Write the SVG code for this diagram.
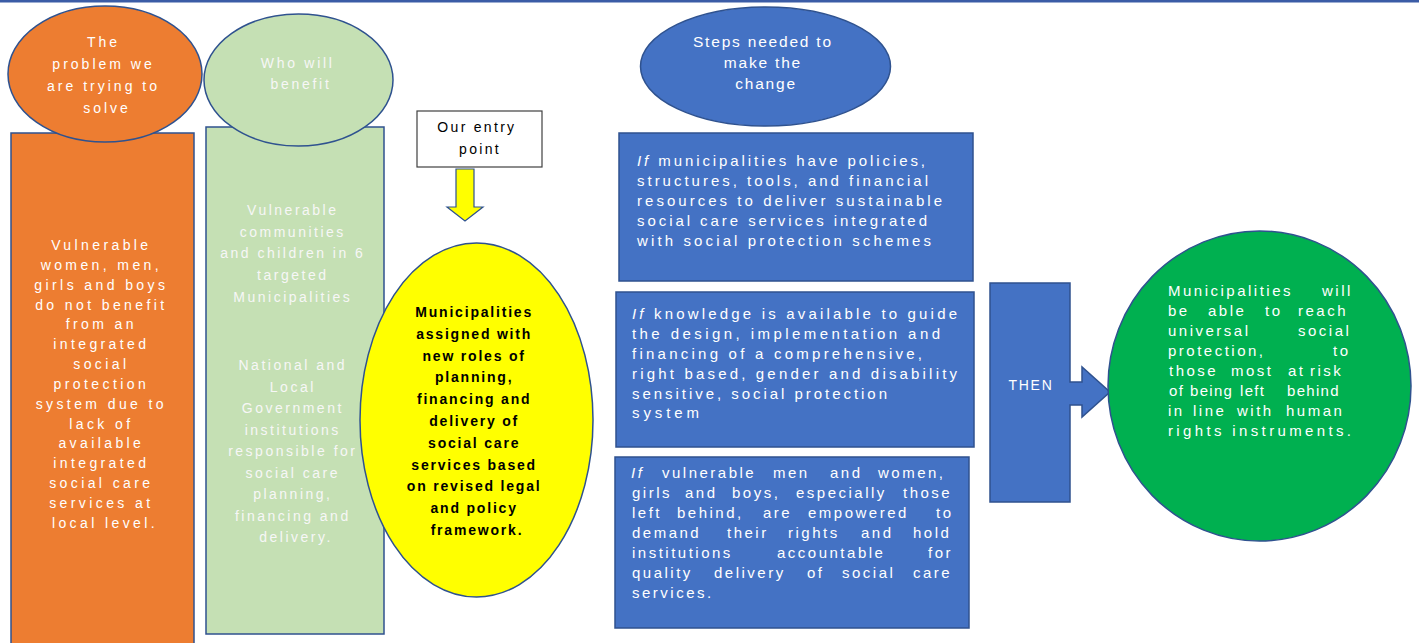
<svg xmlns="http://www.w3.org/2000/svg" width="1419" height="643" viewBox="0 0 1419 643">
<style>
.sh{stroke:#2F528F;stroke-width:1.5}
.t{font-family:"Liberation Sans",Arial,sans-serif;font-size:14px}
.c{text-anchor:middle}
.w{fill:#FFFFFF}
.k{fill:#000000}
.it{font-style:italic}
.b15{font-size:15px}
</style>
<rect x="0" y="0" width="1419" height="2.5" fill="#3B5CA6"/>

<g id="problem-box">
<rect class="sh" x="11" y="133" width="183" height="520" fill="#ED7D31"/>
<text class="t c w" x="105" style="letter-spacing:3.4px">
<tspan x="105" y="250">Vulnerable</tspan>
<tspan x="105" y="270">women, men,</tspan>
<tspan x="105" y="290">girls and boys</tspan>
<tspan x="105" y="310">do not benefit</tspan>
<tspan x="105" y="329">from an</tspan>
<tspan x="105" y="349">integrated</tspan>
<tspan x="105" y="369">social</tspan>
<tspan x="105" y="389">protection</tspan>
<tspan x="105" y="409">system due to</tspan>
<tspan x="105" y="429">lack of</tspan>
<tspan x="105" y="448">available</tspan>
<tspan x="105" y="468">integrated</tspan>
<tspan x="105" y="488">social care</tspan>
<tspan x="105" y="508">services at</tspan>
<tspan x="105" y="528">local level.</tspan>
</text>
</g>

<g id="problem-title">
<ellipse class="sh" cx="105" cy="74" rx="97" ry="68" fill="#ED7D31"/>
<text class="t c w" style="letter-spacing:3px">
<tspan x="107" y="47">The</tspan>
<tspan x="107" y="69">problem we</tspan>
<tspan x="107" y="91">are trying to</tspan>
<tspan x="107" y="113">solve</tspan>
</text>
</g>

<g id="beneficiaries-box">
<rect class="sh" x="206" y="127" width="178" height="507" fill="#C5E0B4"/>
<text class="t c" fill="#F7F7F7" style="letter-spacing:2.5px">
<tspan x="296" y="215">Vulnerable</tspan>
<tspan x="296" y="237">communities</tspan>
<tspan x="296" y="258">and children in 6</tspan>
<tspan x="296" y="280">targeted</tspan>
<tspan x="296" y="302">Municipalities</tspan>
<tspan x="296" y="370">National and</tspan>
<tspan x="296" y="392">Local</tspan>
<tspan x="296" y="413">Government</tspan>
<tspan x="296" y="435">institutions</tspan>
<tspan x="296" y="456">responsible for</tspan>
<tspan x="296" y="478">social care</tspan>
<tspan x="296" y="499">planning,</tspan>
<tspan x="296" y="521">financing and</tspan>
<tspan x="296" y="542">delivery.</tspan>
</text>
</g>

<g id="beneficiaries-title">
<ellipse class="sh" cx="298.5" cy="80" rx="94.5" ry="66" fill="#C5E0B4"/>
<text class="t c" fill="#F7F7F7" style="letter-spacing:2.7px">
<tspan x="301" y="68">Who will</tspan>
<tspan x="301" y="89">benefit</tspan>
</text>
</g>

<g id="entry-point">
<rect x="417" y="111" width="125" height="56" fill="#FFFFFF" stroke="#404040" stroke-width="1.2"/>
<text class="t c k" style="letter-spacing:2.3px">
<tspan x="480" y="132">Our entry</tspan>
<tspan x="480" y="154">point</tspan>
</text>
</g>

<g id="connectors">
<path d="M456,169 H474 V207 H483 L465,221 L447,207 H456 Z" fill="#FFFF00" stroke="#2F528F" stroke-width="1.2"/>
</g>

<g id="municipalities-roles">
<ellipse class="sh" cx="476.5" cy="420" rx="116.5" ry="177" fill="#FFFF00"/>
<text class="t c k" font-weight="bold" style="letter-spacing:1.8px">
<tspan x="477" y="317">Municipalities</tspan>
<tspan x="477" y="339">assigned with</tspan>
<tspan x="477" y="361">new roles of</tspan>
<tspan x="477" y="382">planning,</tspan>
<tspan x="477" y="404">financing and</tspan>
<tspan x="477" y="426">delivery of</tspan>
<tspan x="477" y="448">social care</tspan>
<tspan x="477" y="470">services based</tspan>
<tspan x="477" y="491">on revised legal</tspan>
<tspan x="477" y="513">and policy</tspan>
<tspan x="477" y="535">framework.</tspan>
</text>
</g>

<g id="steps-title">
<ellipse class="sh" cx="765.5" cy="66.5" rx="125" ry="59.5" fill="#4472C4"/>
<text class="t c w" style="font-size:15.5px;letter-spacing:1.8px">
<tspan x="766" y="47">Steps needed to</tspan>
<tspan x="766" y="68">make the</tspan>
<tspan x="766" y="89">change</tspan>
</text>
</g>

<g id="step-1">
<rect class="sh" x="619" y="133" width="354" height="148" fill="#4472C4"/>
<g class="t b15 w">
<text x="637" y="166" textLength="288" lengthAdjust="spacing"><tspan class="it">If</tspan> municipalities have policies,</text>
<text x="637" y="186" textLength="291" lengthAdjust="spacing">structures, tools, and financial</text>
<text x="637" y="206" textLength="305" lengthAdjust="spacing">resources to deliver sustainable</text>
<text x="637" y="226" textLength="290" lengthAdjust="spacing">social care services integrated</text>
<text x="637" y="246" textLength="294" lengthAdjust="spacing">with social protection schemes</text>
</g>
</g>

<g id="step-2">
<rect class="sh" x="616" y="292" width="358" height="155" fill="#4472C4"/>
<g class="t b15 w">
<text x="632" y="319" textLength="325" lengthAdjust="spacing"><tspan class="it">If</tspan> knowledge is available to guide</text>
<text x="632" y="339" textLength="308" lengthAdjust="spacing">the design, implementation and</text>
<text x="632" y="359" textLength="290" lengthAdjust="spacing">financing of a comprehensive,</text>
<text x="632" y="379" textLength="325" lengthAdjust="spacing">right based, gender and disability</text>
<text x="632" y="399" textLength="255" lengthAdjust="spacing">sensitive, social protection</text>
<text x="632" y="418" textLength="67" lengthAdjust="spacing">system</text>
</g>
</g>

<g id="step-3">
<rect class="sh" x="615" y="457" width="354" height="171" fill="#4472C4"/>
<g class="t b15 w" style="letter-spacing:2.5px">
<text y="478"><tspan class="it" x="631">If</tspan><tspan x="662">vulnerable</tspan><tspan x="773">men</tspan><tspan x="830">and</tspan><tspan x="878">women,</tspan></text>
<text y="498"><tspan x="632">girls</tspan><tspan x="685">and</tspan><tspan x="732">boys,</tspan><tspan x="796">especially</tspan><tspan x="903">those</tspan></text>
<text y="518"><tspan x="632">left</tspan><tspan x="677">behind,</tspan><tspan x="763">are</tspan><tspan x="808">empowered</tspan><tspan x="936">to</tspan></text>
<text y="538"><tspan x="632">demand</tspan><tspan x="727">their</tspan><tspan x="788">rights</tspan><tspan x="861">and</tspan><tspan x="913">hold</tspan></text>
<text y="558"><tspan x="632">institutions</tspan><tspan x="777">accountable</tspan><tspan x="928">for</tspan></text>
<text y="578"><tspan x="632">quality</tspan><tspan x="714">delivery</tspan><tspan x="807">of</tspan><tspan x="842">social</tspan><tspan x="913">care</tspan></text>
<text y="598"><tspan x="632">services.</tspan></text>
</g>
</g>

<g id="then">
<path class="sh" d="M990,283 H1070 V382 H1082 V367 L1110,392 L1082,417 V405 H1070 V502 H990 Z" fill="#4472C4"/>
<text class="t c w" x="1031" y="390" style="letter-spacing:1.7px">THEN</text>
</g>

<g id="outcome">
<ellipse class="sh" cx="1259.5" cy="386" rx="151.5" ry="155" fill="#00B050"/>
<g class="t b15 w" style="letter-spacing:2.5px">
<text y="296"><tspan x="1168">Municipalities</tspan><tspan x="1322">will</tspan></text>
<text y="316"><tspan x="1168">be</tspan><tspan x="1208">able</tspan><tspan x="1265">to</tspan><tspan x="1298">reach</tspan></text>
<text y="336"><tspan x="1168">universal</tspan><tspan x="1298">social</tspan></text>
<text y="356"><tspan x="1168">protection,</tspan><tspan x="1333">to</tspan></text>
<text y="376"><tspan x="1169">those</tspan><tspan x="1231">most</tspan><tspan x="1288">at</tspan><tspan x="1310">risk</tspan></text>
<text y="396" style="letter-spacing:1.3px"><tspan x="1169">of</tspan><tspan x="1190">being</tspan><tspan x="1240">left</tspan><tspan x="1287">behind</tspan></text>
<text y="416"><tspan x="1168">in</tspan><tspan x="1193">line</tspan><tspan x="1237">with</tspan><tspan x="1286">human</tspan></text>
<text y="436" x="1168" textLength="183" lengthAdjust="spacing" style="letter-spacing:0">rights instruments.</text>
</g>
</g>
</svg>
